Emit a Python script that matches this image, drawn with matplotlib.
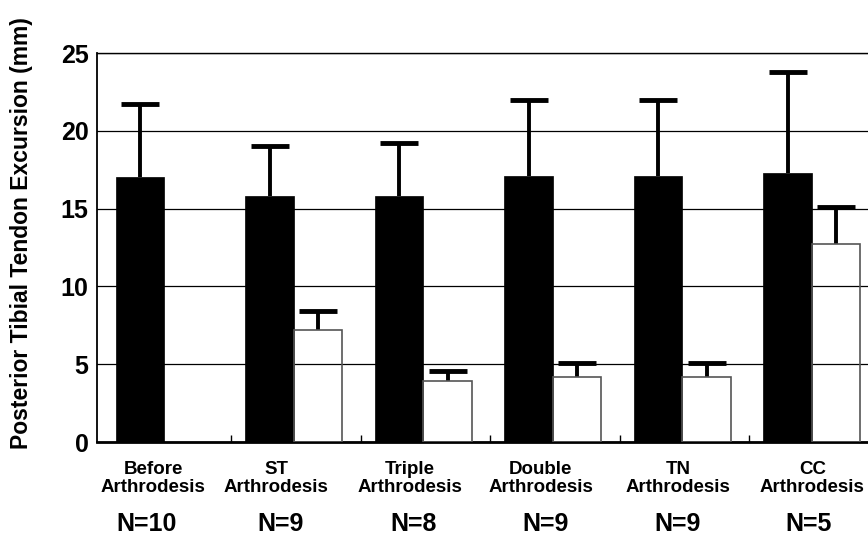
import numpy as np
import matplotlib
matplotlib.use('Agg')
import matplotlib.pyplot as plt
import matplotlib.transforms as mtrans

plt.rcParams['font.family'] = ['Liberation Sans', 'DejaVu Sans']
plt.rcParams['font.weight'] = 'bold'

groups = ['Before\nArthrodesis', 'ST\nArthrodesis', 'Triple\nArthrodesis',
          'Double\nArthrodesis', 'TN\nArthrodesis', 'CC\nArthrodesis']
counts = ['N=10', 'N=9', 'N=8', 'N=9', 'N=9', 'N=5']

# excursion before (black) and after (white) arthrodesis, mean and mean+SD
before_mean = [17.0, 15.8, 15.8, 17.1, 17.1, 17.3]
before_top = [21.7, 19.0, 19.2, 22.0, 22.0, 23.8]
after_mean = [np.nan, 7.2, 3.9, 4.2, 4.2, 12.7]
after_top = [np.nan, 8.4, 4.55, 5.1, 5.1, 15.1]

# layout: where the group labels sit (category units)
label_x = [0.40, 1.35, 2.38, 3.39, 4.45, 5.49]
count_x = [0.35, 1.38, 2.41, 3.43, 4.45, 5.46]

fig = plt.figure(figsize=(8.68, 5.43), dpi=100)
ax = fig.add_axes([97/868, 1-442/543, 1-97/868, (442-53)/543])

idx = np.arange(len(groups))
w = 0.375
x_black = idx + 0.11
x_white = x_black + w

bm = np.array(before_mean)
am = np.array(after_mean)

ax.bar(x_black, bm, width=w, align='edge', color='black', edgecolor='black',
       lw=0.5, zorder=3)
ax.bar(x_white, am, width=w, align='edge', facecolor='none', edgecolor='#555555',
       lw=1.2, zorder=3)

ekw = dict(fmt='none', ecolor='black', elinewidth=2.8, capsize=14, capthick=3.5,
           zorder=2)
for xs, m, top in [(x_black, bm, before_top), (x_white, am, after_top)]:
    eb = ax.errorbar(xs + w/2, m, yerr=[np.zeros_like(m), np.array(top) - m], **ekw)
    eb[1][0].set_visible(False)   # only the upper cap is drawn

ax.set_ylim(0, 25)
ax.set_xlim(-0.035, 5.919)
ax.set_yticks([0, 5, 10, 15, 20, 25])
ax.yaxis.grid(True, color='black', lw=0.9, zorder=1)
ax.set_axisbelow(True)
ax.tick_params(axis='y', length=0, pad=6, labelsize=18)
for t in ax.get_yticklabels():
    t.set_fontweight('bold')

ax.set_xticks([])
ax.set_xticks([1, 2, 3, 4, 5], minor=True)
ax.tick_params(axis='x', which='minor', direction='in', length=5, width=1)

ax.spines['right'].set_visible(False)
ax.spines['bottom'].set_linewidth(2)
ax.spines['left'].set_linewidth(1.3)
ax.spines['top'].set_linewidth(1.0)

tr = mtrans.blended_transform_factory(ax.transData, ax.transAxes)
for xl, g in zip(label_x, groups):
    ax.text(xl, -0.05, g, transform=tr, ha='center', va='top', fontsize=13.5,
            fontweight='bold', linespacing=1.05)
for xc, n in zip(count_x, counts):
    ax.text(xc, -0.212, n, transform=tr, ha='center', va='center', fontsize=18,
            fontweight='bold')

fig.text(22/868, 1-233/543, 'Posterior Tibial Tendon Excursion (mm)', rotation=90,
         ha='center', va='center', fontsize=16.5, fontweight='bold')

fig.savefig('out.png', dpi=100)
